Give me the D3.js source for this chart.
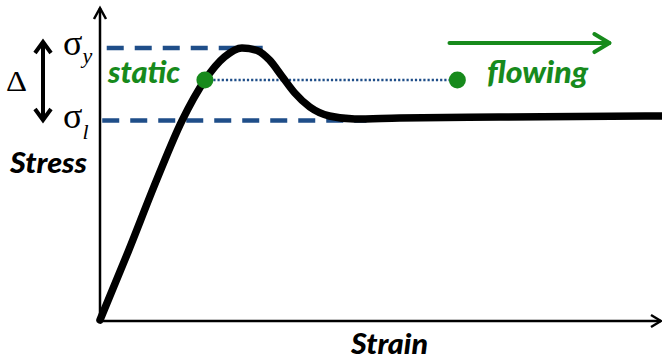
<!DOCTYPE html>
<html>
<head>
<meta charset="utf-8">
<script src="https://cdn.jsdelivr.net/npm/d3@7"></script>
<style>
  body { margin: 0; background: #fff; }
  svg { display: block; }
</style>
</head>
<body>
<script>
const width = 662, height = 363;

// strain as % of the axis length, stress normalised to the yield stress
const strain = [0, 5, 10.1, 14.6, 18.7, 22.2, 25.3, 28.1, 30.2, 32.4, 34.7, 37.4, 40.9, 45.4, 53.4, 71.2, 100];
const stress = [0, 0.25, 0.515, 0.732, 0.882, 0.967, 1.0, 0.99, 0.956, 0.897, 0.835, 0.783, 0.75, 0.739, 0.743, 0.746, 0.75];

// reference levels and their extents along the strain axis
const levels = [
  { name: 'y', value: 1.0, from: 1.2, to: 29 },
  { name: 'l', value: 0.733, from: 0.4, to: 47.5 }
];

// static -> flowing markers
const states = [
  { name: 'static', strain: 18.7, stress: 0.882 },
  { name: 'flowing', strain: 63.7, stress: 0.882 }
];
const flowArrow = { from: 62.3, to: 90.8, stress: 1.018 };

const blue = '#1f4e89', green = '#178a1c';

const x = d3.scaleLinear().domain([0, 100]).range([100, 661]);
const y = d3.scaleLinear().domain([0, 1.147]).range([320, 8]);

const svg = d3.select('body').append('svg')
  .attr('width', width)
  .attr('height', height);

// axes (plain lines with open arrow heads)
const axes = svg.append('g')
  .attr('fill', 'none')
  .attr('stroke', '#000')
  .attr('stroke-width', 2.5);

axes.append('path').attr('d', `M${x(0)},${y(0) + 1}V${y(1.147)}`);
axes.append('path').attr('d', `M${x(0) - 6},${y(1.147) + 11}L${x(0)},${y(1.147)}L${x(0) + 6},${y(1.147) + 11}`);
axes.append('path').attr('d', `M${x(0)},${y(0) + 1}H${x(100)}`);
axes.append('path').attr('d', `M${x(100) - 10},${y(0) - 5}L${x(100)},${y(0) + 1}L${x(100) - 10},${y(0) + 7}`);

// dashed reference levels
svg.append('g').selectAll('line')
  .data(levels)
  .join('line')
  .attr('x1', d => x(d.from))
  .attr('x2', d => x(d.to))
  .attr('y1', d => y(d.value))
  .attr('y2', d => y(d.value))
  .attr('stroke', blue)
  .attr('stroke-width', 4.5)
  .attr('stroke-dasharray', '17,11');

// dotted link between the two states
svg.append('line')
  .attr('x1', x(states[0].strain))
  .attr('x2', x(states[1].strain))
  .attr('y1', y(states[0].stress))
  .attr('y2', y(states[1].stress))
  .attr('stroke', blue)
  .attr('stroke-width', 2.5)
  .attr('stroke-dasharray', '2.2,2');

// stress-strain curve
const line = d3.line()
  .x(d => x(d[0]))
  .y(d => y(d[1]))
  .curve(d3.curveMonotoneX);

svg.append('path')
  .datum(d3.zip(strain, stress))
  .attr('fill', 'none')
  .attr('stroke', '#000')
  .attr('stroke-width', 7.5)
  .attr('stroke-linecap', 'round')
  .attr('stroke-linejoin', 'round')
  .attr('d', line);

// green state dots
svg.append('g').selectAll('circle')
  .data(states)
  .join('circle')
  .attr('cx', d => x(d.strain))
  .attr('cy', d => y(d.stress))
  .attr('r', 8.5)
  .attr('fill', green);

// green flow arrow
const fa = svg.append('g')
  .attr('fill', 'none')
  .attr('stroke', green)
  .attr('stroke-width', 4)
  .attr('stroke-linecap', 'round')
  .attr('stroke-linejoin', 'round');
fa.append('path').attr('d', `M${x(flowArrow.from)},${y(flowArrow.stress)}H${x(flowArrow.to)}`);
fa.append('path').attr('d', `M${x(flowArrow.to) - 15},${y(flowArrow.stress) - 9}L${x(flowArrow.to)},${y(flowArrow.stress)}L${x(flowArrow.to) - 15},${y(flowArrow.stress) + 9}`);

// state labels
const sans = 'Lato, "Open Sans", sans-serif';
svg.append('text')
  .attr('x', 108).attr('y', 83)
  .attr('font-family', sans).attr('font-size', 30)
  .attr('font-weight', 900).attr('font-style', 'italic')
  .attr('fill', green)
  .attr('textLength', 72).attr('lengthAdjust', 'spacingAndGlyphs')
  .text('static');
svg.append('text')
  .attr('x', 487).attr('y', 83)
  .attr('font-family', sans).attr('font-size', 30)
  .attr('font-weight', 900).attr('font-style', 'italic')
  .attr('fill', green)
  .attr('textLength', 101).attr('lengthAdjust', 'spacingAndGlyphs')
  .text('flowing');

// axis titles
svg.append('text')
  .attr('x', 10).attr('y', 173)
  .attr('font-family', sans).attr('font-size', 29)
  .attr('font-weight', 900).attr('font-style', 'italic')
  .attr('textLength', 77).attr('lengthAdjust', 'spacingAndGlyphs')
  .text('Stress');
svg.append('text')
  .attr('x', 351).attr('y', 354)
  .attr('font-family', sans).attr('font-size', 29)
  .attr('font-weight', 900).attr('font-style', 'italic')
  .attr('textLength', 77).attr('lengthAdjust', 'spacingAndGlyphs')
  .text('Strain');

// sigma labels
const serif = '"Liberation Serif", "DejaVu Serif", serif';
levels.forEach(d => {
  const t = svg.append('text')
    .attr('x', 63)
    .attr('y', y(d.value) + 7)
    .attr('font-family', serif)
    .attr('font-size', 36);
  t.append('tspan').text('σ');
  t.append('tspan')
    .attr('dy', d.name === 'y' ? 8 : 11)
    .attr('font-size', 22)
    .attr('font-style', 'italic')
    .text(d.name);
});

// Δ with double arrow
svg.append('text')
  .attr('x', 6).attr('y', 91)
  .attr('font-family', serif).attr('font-size', 30)
  .attr('textLength', 21).attr('lengthAdjust', 'spacingAndGlyphs')
  .text('Δ');

const da = svg.append('g')
  .attr('fill', 'none')
  .attr('stroke', '#000')
  .attr('stroke-width', 4)
  .attr('stroke-linejoin', 'miter');
da.append('path').attr('d', 'M43,43V119');
da.append('path').attr('d', 'M35,53L43,42L51,53');
da.append('path').attr('d', 'M35,109L43,120L51,109');
</script>
</body>
</html>
